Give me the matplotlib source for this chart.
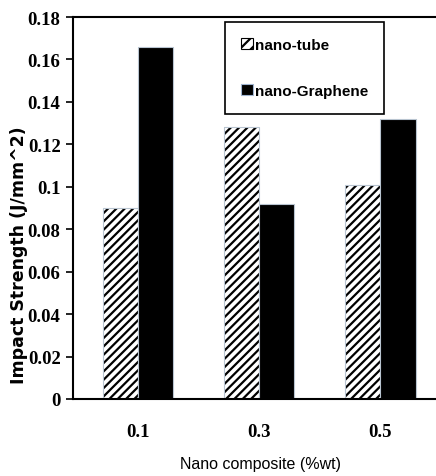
import matplotlib
matplotlib.use("Agg")
import matplotlib.pyplot as plt
from matplotlib.patches import Patch
import numpy as np

categories = ["0.1", "0.3", "0.5"]
series_names = ["nano-tube", "nano-Graphene"]
nano_tube = [0.090, 0.128, 0.101]
nano_graphene = [0.166, 0.092, 0.132]
yticks = [0, 0.02, 0.04, 0.06, 0.08, 0.1, 0.12, 0.14, 0.16, 0.18]
ytick_labels = ["0", "0.02", "0.04", "0.06", "0.08", "0.1", "0.12", "0.14", "0.16", "0.18"]

plt.rcParams['hatch.linewidth'] = 1.6

W, H = 436, 477
fig = plt.figure(figsize=(W / 100, H / 100), dpi=100)
ax = fig.add_axes([73 / W, (H - 400) / H, (W - 73 + 2) / W, (400 - 18) / H])

x = np.arange(len(categories))
bw = 0.29
ax.bar(x - bw / 2, nano_tube, bw, facecolor='white', edgecolor='black',
       hatch='////', linewidth=0)
ax.bar(x - bw / 2, nano_tube, bw, fill=False, edgecolor='#b8c4d0', linewidth=0.8)
ax.bar(x + bw / 2, nano_graphene, bw, facecolor='black', edgecolor='#b8c4d0',
       linewidth=0.8)

ax.set_xlim(-0.537, 2.475)
ax.set_ylim(0, 0.18)
ax.set_yticks(yticks)
ax.set_yticklabels(ytick_labels, fontfamily='Liberation Serif', fontweight='bold', fontsize=13.5)
ax.set_xticks(x)
ax.set_xticklabels(categories, fontfamily='Liberation Serif', fontweight='bold', fontsize=13.5)
ax.tick_params(axis='x', length=0, pad=17)
ax.tick_params(axis='y', length=5, width=1.2, direction='out', pad=4)
for s in ['left', 'bottom', 'top']:
    ax.spines[s].set_linewidth(1.5)
ax.spines['right'].set_visible(False)

fig.text(19 / W, 1 - 255 / H, "Impact Strength (J/mm^2)", rotation=90,
         ha='center', va='center', fontfamily='DejaVu Sans', fontweight='bold', fontsize=12.5)
fig.text(260 / W, 1 - 465 / H, "Nano composite (%wt)", ha='center', va='center',
         fontfamily='Liberation Sans', fontsize=11.5)

h1 = Patch(facecolor='white', edgecolor='black', hatch='///', linewidth=0.8, label=series_names[0])
h2 = Patch(facecolor='black', edgecolor='#9fb4d0', linewidth=0.8, label=series_names[1])
leg = ax.legend(handles=[h1, h2], loc='upper left',
                bbox_to_anchor=(225 / W, 1 - 23 / H), bbox_transform=fig.transFigure,
                frameon=True, fancybox=False, edgecolor='black', framealpha=1,
                prop={'family': 'Liberation Sans', 'weight': 'bold', 'size': 11},
                handlelength=0.75, handleheight=0.75, handletextpad=0.15,
                labelspacing=2.1, borderpad=1.05, borderaxespad=0)
leg.get_frame().set_linewidth(1.2)

fig.savefig("out.png", dpi=100)
